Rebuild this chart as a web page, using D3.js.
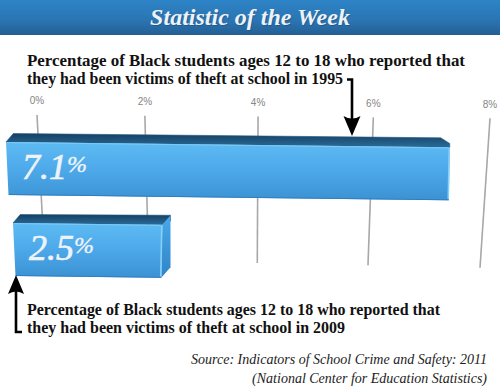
<!DOCTYPE html>
<html><head><meta charset="utf-8">
<script src="https://cdn.jsdelivr.net/npm/d3@7"></script>
<style>body{margin:0;background:#fff}svg{display:block}</style>
</head><body>
<script>
// ---- data ----
const title = "Statistic of the Week";
const years = ["1995", "2009"];
const values = [7.1, 2.5];
const valueLabels = ["7.1", "2.5"];
const tickValues = [0, 2, 4, 6, 8];
const tickLabels = ["0%", "2%", "4%", "6%", "8%"];
const noteTop = ["Percentage of Black students ages 12 to 18 who reported that",
                 "they had been victims of theft at school in 1995"];
const noteBottom = ["Percentage of Black students ages 12 to 18 who reported that",
                    "they had been victims of theft at school in 2009"];
const source = ["Source: Indicators of School Crime and Safety: 2011",
                "(National Center for Education Statistics)"];

// ---- setup ----
const W = 500, H = 390;
const svg = d3.select("body").append("svg").attr("width", W).attr("height", H);
const defs = svg.append("defs");
function vgrad(id, stops) {
  const g = defs.append("linearGradient").attr("id", id)
    .attr("x1", 0).attr("y1", 0).attr("x2", 0).attr("y2", 1);
  stops.forEach(([o, c]) => g.append("stop").attr("offset", o).attr("stop-color", c));
}
vgrad("banner", [[0, "#2d84c6"], [0.6, "#2a74b2"], [1, "#245f93"]]);
vgrad("front", [[0, "#5dbbf3"], [0.45, "#4eaaea"], [1, "#3b92d3"]]);
vgrad("topf", [[0, "#163f60"], [1, "#2a6c9a"]]);
vgrad("side", [[0, "#4aa8ea"], [1, "#2f84c6"]]);

// banner
svg.append("rect").attr("x", 0).attr("y", 0).attr("width", W).attr("height", 35)
  .attr("fill", "url(#banner)");
svg.append("text").attr("x", W / 2 + 1).attr("y", 25.5).attr("text-anchor", "middle")
  .attr("font-family", "'Liberation Serif', 'Times New Roman', serif")
  .attr("font-style", "italic").attr("font-weight", "bold").attr("font-size", 24)
  .attr("fill", "#1d4f7a").attr("opacity", 0.6).text(title);
svg.append("text").attr("x", W / 2).attr("y", 24.5).attr("text-anchor", "middle")
  .attr("font-family", "'Liberation Serif', 'Times New Roman', serif")
  .attr("font-style", "italic").attr("font-weight", "bold").attr("font-size", 24)
  .attr("fill", "#eef2f6").text(title);

// ---- scales ----
const gridTop = d3.scalePow().exponent(1.035).domain([0, 8]).range([37, 490]);
const gridBot = d3.scalePow().exponent(1.035).domain([0, 8]).range([45, 480]);
const xBar = d3.scaleLinear().domain([0, 8]).range([6, 506]);
const yBand = d3.scaleBand().domain(years).range([142, 304]);

// tick labels
svg.append("g").selectAll("text").data(tickValues).join("text")
  .attr("x", d => gridTop(d)).attr("y", d => 104 + d * 0.5)
  .attr("text-anchor", "middle")
  .attr("font-family", "'Liberation Sans', Arial, sans-serif").attr("font-size", 10)
  .attr("fill", "#858585")
  .text((d, i) => tickLabels[i]);

// gridlines
svg.append("g").selectAll("line").data(tickValues).join("line")
  .attr("x1", d => gridTop(d)).attr("y1", d => 115 + d * 0.4)
  .attr("x2", d => gridBot(d)).attr("y2", d => 263 + Math.abs(d - 4) * 1.2)
  .attr("stroke", "#a8a8a8").attr("stroke-width", 1.6);

// ---- bars ----
const slope = 0.012, fh = 53, depth = 9.5;
const bars = svg.append("g");
years.forEach((yr, i) => {
  const v = values[i];
  const x0 = xBar(0) + i * 7, x1 = xBar(v);
  const t = yBand(yr);
  const tr = t + slope * (x1 - x0);
  const bl = (300 - x0) * 0.025, br = (300 - x1) * 0.06;
  const g = bars.append("g");
  // top face
  g.append("path").attr("d", d3.line()([
    [x0, t], [x0 + bl, t - depth + 1], [x1 + br, tr - depth], [x1 + Math.max(br, 0), tr - depth * 0.4], [x1, tr]
  ]) + "Z").attr("fill", "url(#topf)").attr("stroke", "#1f5a86").attr("stroke-width", 0.6)
    .attr("stroke-linejoin", "round");
  // side face
  if (br > 0) {
    g.append("path").attr("d", d3.line()([
      [x1, tr], [x1 + br, tr - depth], [x1 + br, tr + fh - depth - 1], [x1 - 1, tr + fh]
    ]) + "Z").attr("fill", "url(#side)");
  }
  // front face
  g.append("path").attr("d", d3.line()([
    [x0, t], [x1, tr], [x1 - 1, tr + fh], [x0 + 2.5, t + fh]
  ]) + "Z").attr("fill", "url(#front)");
  // highlights
  g.append("line").attr("x1", x0 + 1).attr("y1", t + 0.6).attr("x2", x1 - 1).attr("y2", tr + 0.6)
    .attr("stroke", "#7fcaf6").attr("stroke-width", 1);
  g.append("line").attr("x1", x1 - 0.5).attr("y1", tr + 1).attr("x2", x1 - 1.5).attr("y2", tr + fh - 1)
    .attr("stroke", "#85cff8").attr("stroke-width", 1.6);
  g.append("line").attr("x1", x0 + 3).attr("y1", t + fh - 0.5).attr("x2", x1 - 1).attr("y2", tr + fh - 0.5)
    .attr("stroke", "#2f7fc0").attr("stroke-width", 1);
  // value label
  const lab = g.append("text").attr("x", x0 + 16).attr("y", t + 36.5)
    .attr("font-family", "'Liberation Serif', 'Times New Roman', serif")
    .attr("font-style", "italic").attr("font-size", 36).attr("fill", "#eef3f8")
    .attr("stroke", "#eef3f8").attr("stroke-width", 0.7);
  lab.append("tspan").text(valueLabels[i]);
  lab.append("tspan").attr("font-size", 24).attr("dy", -7).attr("stroke-width", 0.4).text("%");
});

// ---- annotations ----
const noteFont = "'Liberation Serif', 'Times New Roman', serif";
function note(lines, x, y0, widths) {
  const t = svg.append("text").attr("font-family", noteFont).attr("font-weight", "bold")
    .attr("font-size", 16).attr("fill", "#111");
  lines.forEach((l, k) => t.append("tspan").attr("x", x).attr("y", y0 + k * 17.5)
    .attr("textLength", widths[k]).attr("lengthAdjust", "spacingAndGlyphs").text(l));
  return t;
}
note(noteTop, 27, 66, [438, 316]);
note(noteBottom, 27, 315, [413, 318]);

// top arrow
const endX = 27 + 316;
const ax = 352;
svg.append("path").attr("d", `M${endX + 4},79.5 H${ax} V120`)
  .attr("fill", "none").attr("stroke", "#000").attr("stroke-width", 2.6);
svg.append("path").attr("d", `M${ax - 8.5},116 Q${ax},121 ${ax + 8.5},116 L${ax},136 Z`).attr("fill", "#000");

// bottom arrow
const bx = 16;
svg.append("path").attr("d", `M${bx},290 V332 H${bx + 6}`)
  .attr("fill", "none").attr("stroke", "#000").attr("stroke-width", 2.6);
svg.append("path").attr("d", `M${bx - 8},294 Q${bx},289 ${bx + 8},294 L${bx},275 Z`).attr("fill", "#000");

// source
const st = svg.append("text").attr("font-family", noteFont).attr("font-style", "italic")
  .attr("font-size", 14).attr("fill", "#222").attr("text-anchor", "end");
source.forEach((l, k) => st.append("tspan").attr("x", 487).attr("y", 364 + k * 18.5).text(l));
</script>
</body></html>
